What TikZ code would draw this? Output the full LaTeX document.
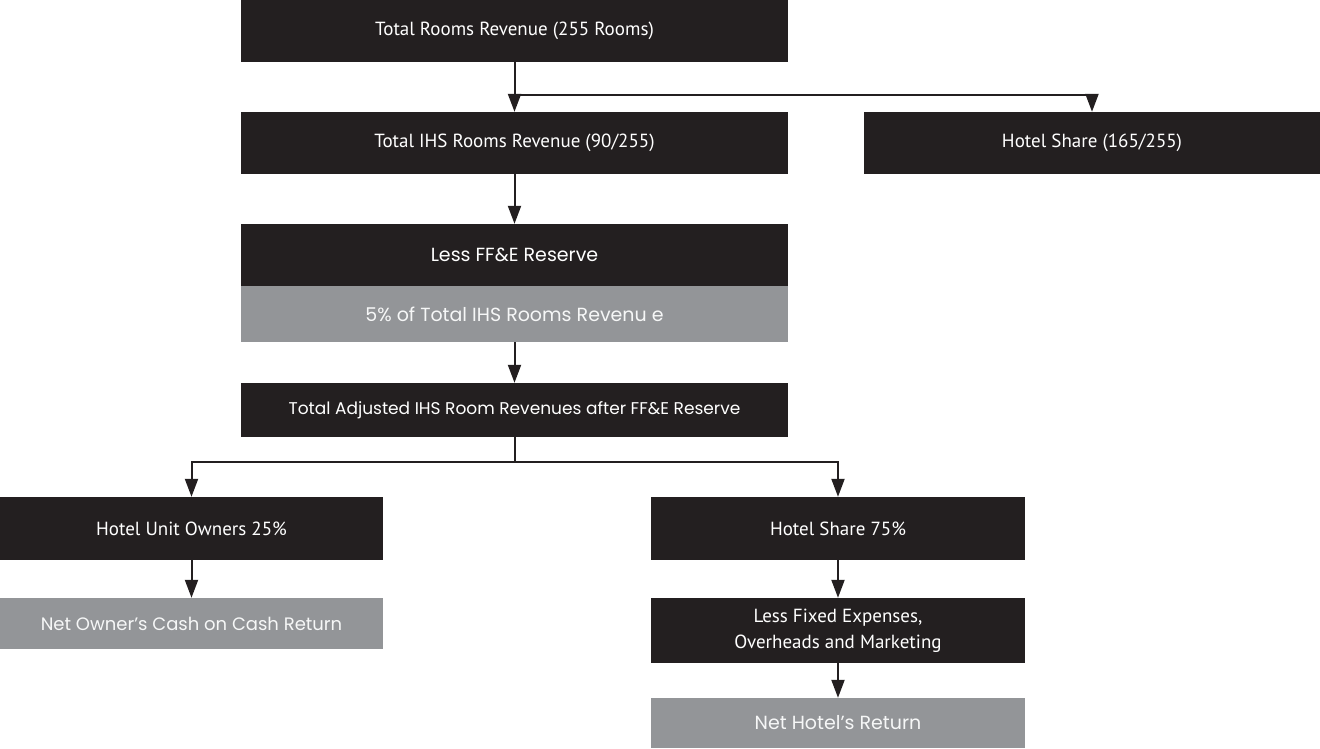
\documentclass[tikz,border=0pt]{standalone}
\usepackage{fontspec}
\setmainfont{PT Sans}
\newfontfamily\geo{Poppins}
\usetikzlibrary{arrows.meta}
\definecolor{boxdark}{HTML}{231F20}
\definecolor{boxgray}{HTML}{939598}
\tikzset{
  darkbox/.style={rectangle, fill=boxdark, text=white, inner sep=0pt,
    font=\fontsize{19}{26}\selectfont, align=center},
  geobox/.style={darkbox, font=\geo\fontsize{19}{24}\selectfont},
  graybox/.style={geobox, fill=boxgray, text=white!92!boxgray},
  arr/.style={draw=boxdark, line width=2pt, -{Triangle[width=13pt,length=18pt]}},
}
\begin{document}
\begin{tikzpicture}[x=1pt, y=-1pt]
\useasboundingbox (0,0) rectangle (1320,748);

\node[darkbox, minimum width=547, minimum height=62] (total) at (514.5, 31) {Total Rooms Revenue (255 Rooms)};
\node[darkbox, minimum width=547, minimum height=62] (ihs) at (514.5, 143) {Total IHS Rooms Revenue (90/255)};
\node[darkbox, minimum width=456, minimum height=62] (share) at (1092, 143) {Hotel Share (165/255)};
\node[geobox, minimum width=547, minimum height=62] (less) at (514.5, 255) {Less FF\&E Reserve};
\node[graybox, minimum width=547, minimum height=56] (pct) at (514.5, 314) {5\% of Total IHS Rooms Revenu e};
\node[geobox, minimum width=547, minimum height=54, font=\geo\fontsize{17}{22}\selectfont] (adj) at (514.5, 410) {Total Adjusted IHS Room Revenues after FF\&E Reserve};

\node[darkbox, minimum width=383, minimum height=63] (owners) at (191.5, 528.5) {Hotel Unit Owners 25\%};
\node[graybox, minimum width=383, minimum height=51, font=\geo\fontsize{18}{22}\selectfont] (cash) at (191.5, 623.5) {Net Owner’s Cash on Cash Return};
\node[darkbox, minimum width=374, minimum height=63] (hotel) at (838, 528.5) {Hotel Share 75\%};
\node[darkbox, minimum width=374, minimum height=65] (fixed) at (838, 630.5) {Less Fixed Expenses,\\Overheads and Marketing};
\node[graybox, minimum width=374, minimum height=50] (ret) at (838, 723) {Net Hotel’s Return};

\coordinate (split) at (514.5, 95);
\coordinate (fork) at (514.5, 462);

\draw[arr] (total.south) -- (ihs.north);
\draw[arr] (split) -| (share.north);
\draw[arr] (ihs.south) -- (less.north);
\draw[arr] (pct.south) -- (adj.north);
\draw[line width=2pt, draw=boxdark] (adj.south) -- (fork);
\draw[arr] (fork) -| (owners.north);
\draw[arr] (fork) -| (hotel.north);
\draw[arr] (owners.south) -- (cash.north);
\draw[arr] (hotel.south) -- (fixed.north);
\draw[arr] (fixed.south) -- (ret.north);
\end{tikzpicture}
\end{document}
